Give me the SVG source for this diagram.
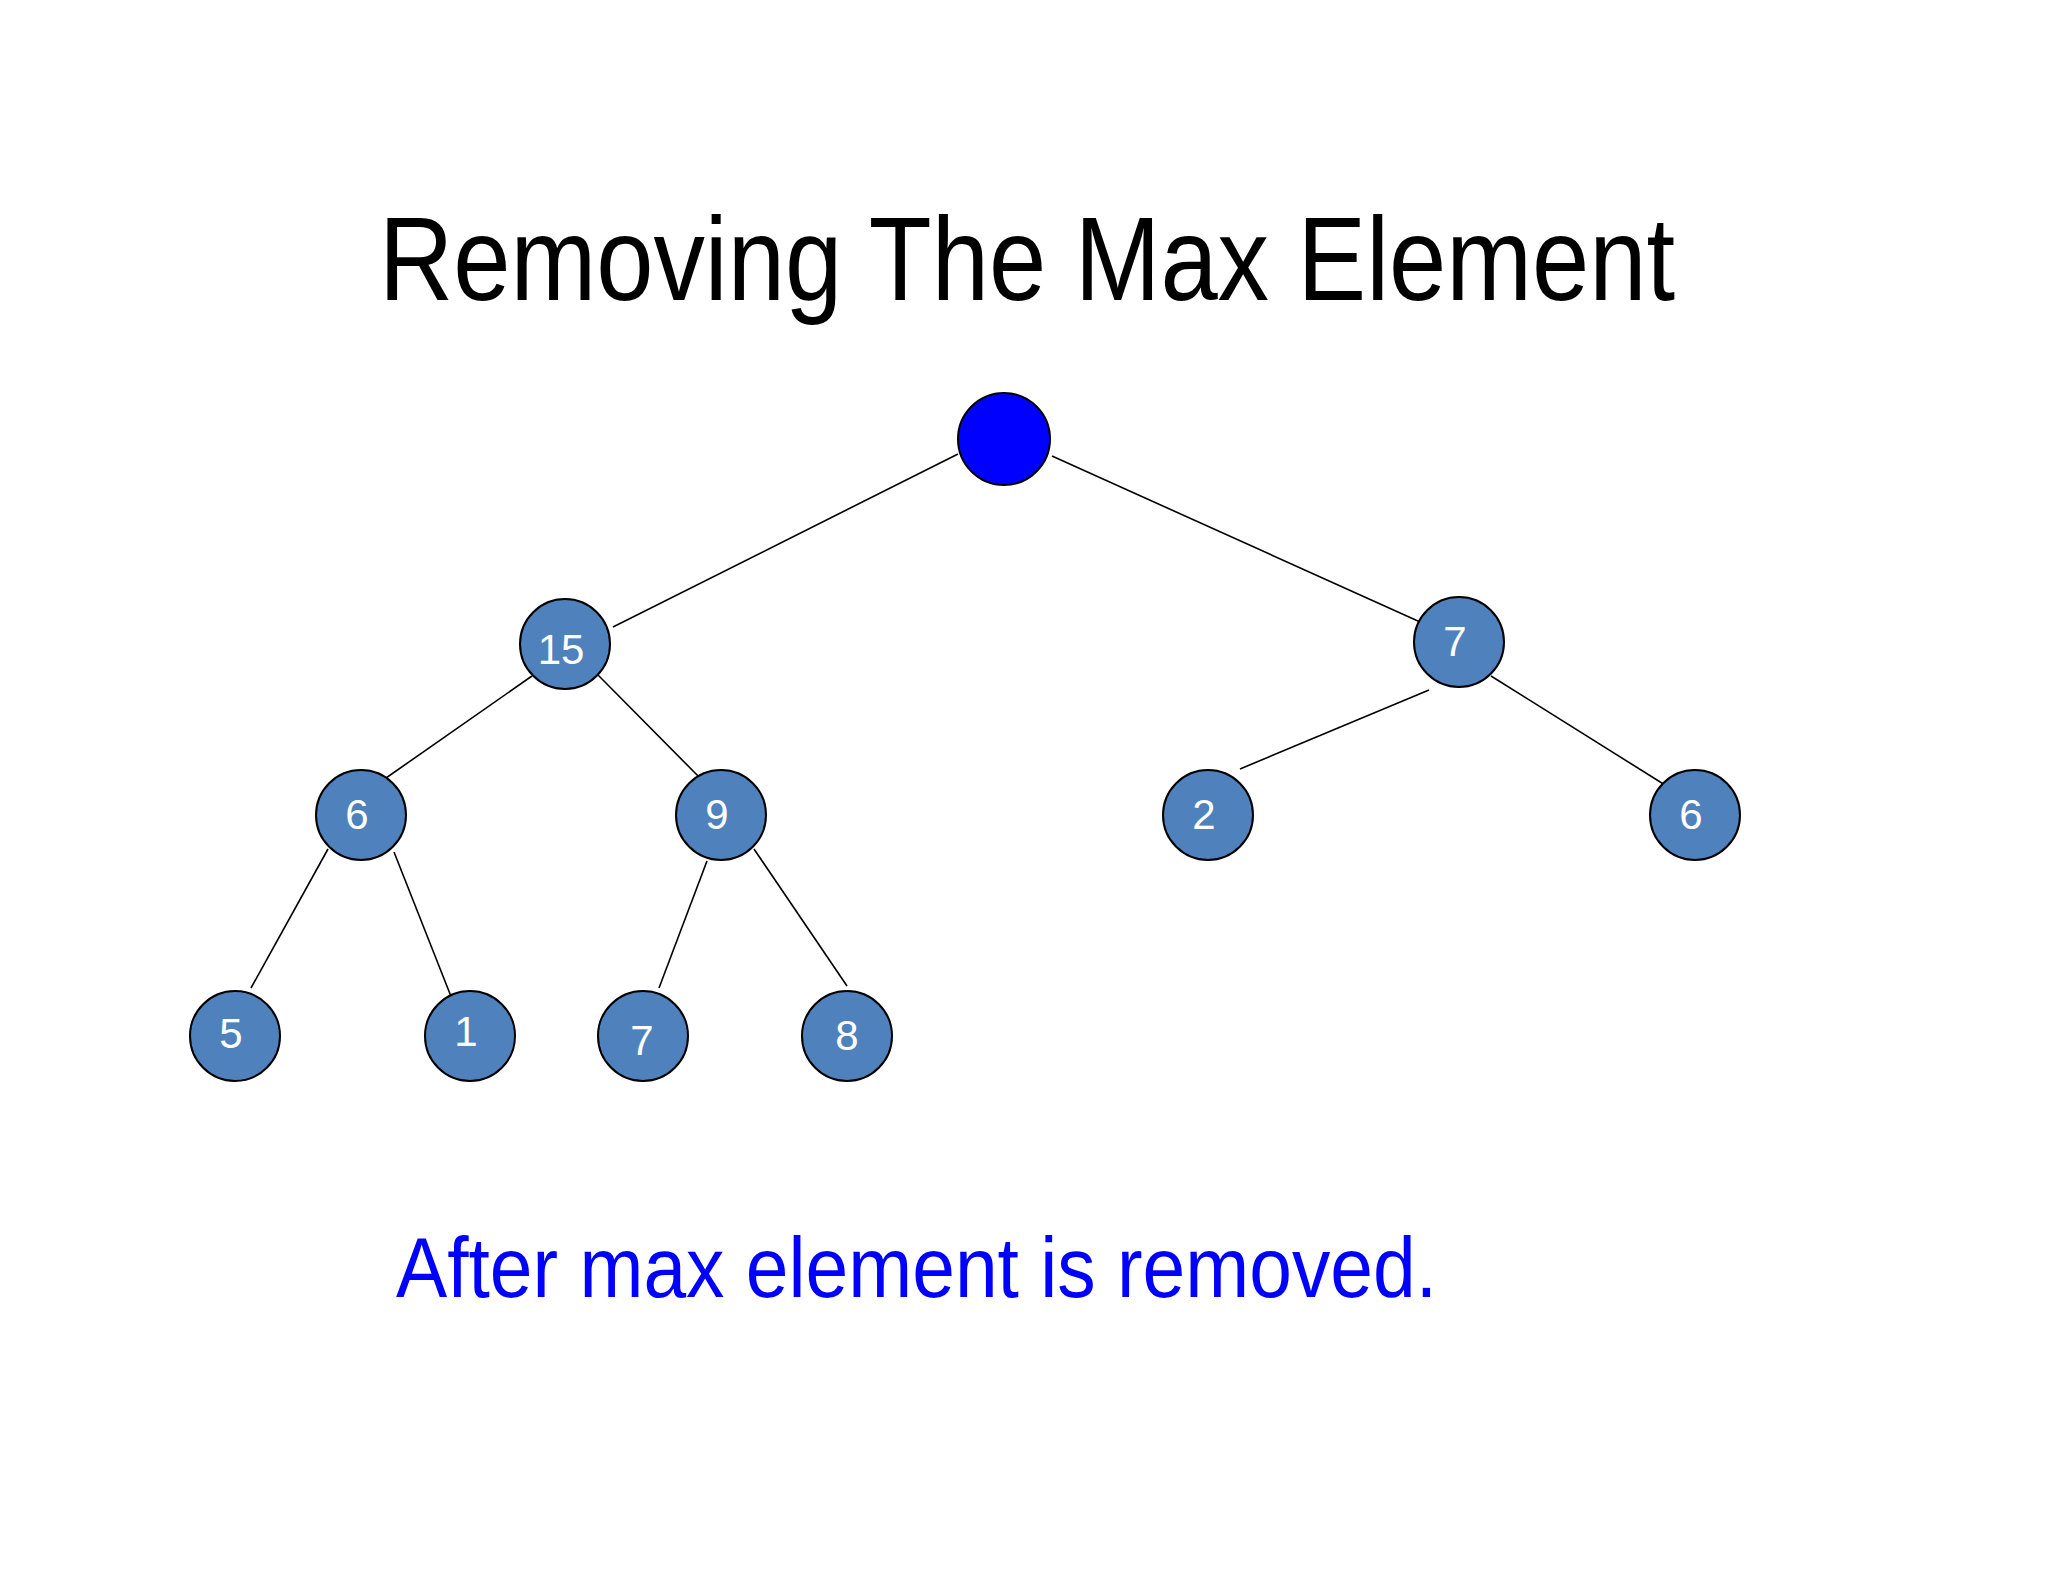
<svg xmlns="http://www.w3.org/2000/svg" width="2048" height="1582" viewBox="0 0 2048 1582">
<style>
.n{fill:#4f81bd;stroke:#000;stroke-width:2}
.t{font-family:"Liberation Sans",Arial,sans-serif;font-size:42px;fill:#fff;text-anchor:middle}
line{stroke:#000;stroke-width:1.6}
</style>
<rect width="2048" height="1582" fill="#fff"/>
<text x="1027" y="300" font-family="Liberation Sans,Arial,sans-serif" font-size="118" text-anchor="middle" textLength="1296" lengthAdjust="spacingAndGlyphs">Removing The Max Element</text>
<g id="connectors">
<line x1="958" y1="454" x2="613" y2="627"/>
<line x1="1052" y1="456" x2="1429" y2="626"/>
<line x1="532" y1="676" x2="376" y2="785"/>
<line x1="598" y1="675" x2="705" y2="783"/>
<line x1="1429" y1="690" x2="1240" y2="769"/>
<line x1="1491" y1="676" x2="1665" y2="785"/>
<line x1="328" y1="849" x2="251" y2="988"/>
<line x1="394" y1="852" x2="454" y2="1004"/>
<line x1="707" y1="861" x2="659" y2="988"/>
<line x1="754" y1="849" x2="847" y2="986"/>
</g>
<g id="root"><circle cx="1004" cy="439" r="46" fill="#0000ff" stroke="#000" stroke-width="2"/></g>
<g id="n15"><circle class="n" cx="565" cy="644" r="45"/><text class="t" x="561" y="664">15</text></g>
<g id="n7a"><circle class="n" cx="1459" cy="642" r="45"/><text class="t" x="1455" y="656">7</text></g>
<g id="n6a"><circle class="n" cx="361" cy="815" r="45"/><text class="t" x="357" y="829">6</text></g>
<g id="n9"><circle class="n" cx="721" cy="815" r="45"/><text class="t" x="717" y="829">9</text></g>
<g id="n2"><circle class="n" cx="1208" cy="815" r="45"/><text class="t" x="1204" y="829">2</text></g>
<g id="n6b"><circle class="n" cx="1695" cy="815" r="45"/><text class="t" x="1691" y="829">6</text></g>
<g id="n5"><circle class="n" cx="235" cy="1036" r="45"/><text class="t" x="231" y="1048">5</text></g>
<g id="n1"><circle class="n" cx="470" cy="1036" r="45"/><text class="t" x="466" y="1046">1</text></g>
<g id="n7b"><circle class="n" cx="643" cy="1036" r="45"/><text class="t" x="642" y="1055">7</text></g>
<g id="n8"><circle class="n" cx="847" cy="1036" r="45"/><text class="t" x="847" y="1050">8</text></g>
<text x="396" y="1297" font-family="Liberation Sans,Arial,sans-serif" font-size="86" fill="#0000ff" textLength="1041" lengthAdjust="spacingAndGlyphs">After max element is removed.</text>
</svg>
